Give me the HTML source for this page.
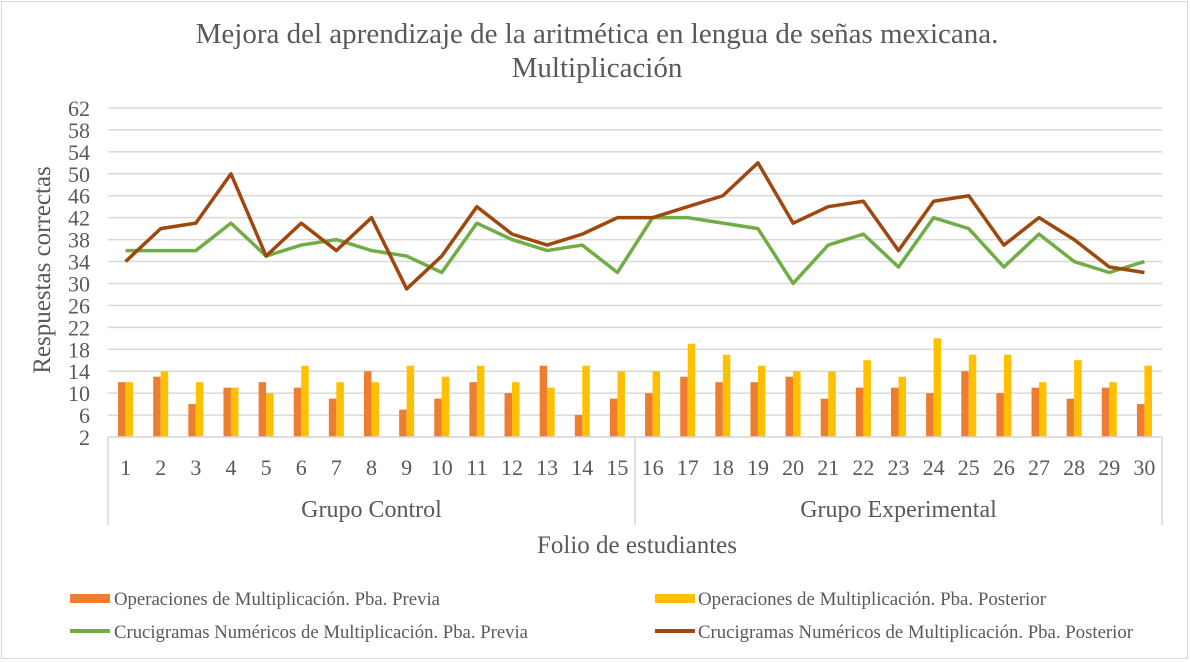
<!DOCTYPE html>
<html><head><meta charset="utf-8"><style>
html,body{margin:0;padding:0;background:#fff;}
svg{display:block;font-family:"Liberation Serif",serif;}
</style></head><body>
<svg id="chart" width="1190" height="662" viewBox="0 0 1190 662">
<rect x="1.5" y="1.5" width="1186" height="657" fill="#fff" stroke="#d9d9d9"/>
<text x="597" y="43" text-anchor="middle" font-size="29" fill="#595959">Mejora del aprendizaje de la aritmética en lengua de señas mexicana.</text>
<text x="597" y="77" text-anchor="middle" font-size="29" fill="#595959">Multiplicación</text>
<g id="grid"></g><g id="bars"></g><g id="lines"></g><g id="xaxis"></g>
<text transform="translate(50,270) rotate(-90)" text-anchor="middle" font-size="25" fill="#595959">Respuestas correctas</text>
<text x="637" y="553" text-anchor="middle" font-size="25" fill="#595959">Folio de estudiantes</text>
<g font-size="19" fill="#595959">
<rect x="70" y="594" width="40" height="9" fill="#ED7D31"/>
<text x="114" y="605" textLength="326" lengthAdjust="spacingAndGlyphs">Operaciones de Multiplicación. Pba. Previa</text>
<rect x="655" y="594" width="40" height="9" fill="#FFC000"/>
<text x="698" y="605" textLength="348" lengthAdjust="spacingAndGlyphs">Operaciones de Multiplicación. Pba. Posterior</text>
<line x1="70" y1="631" x2="110" y2="631" stroke="#70AD47" stroke-width="4"/>
<text x="114" y="638" textLength="414" lengthAdjust="spacingAndGlyphs">Crucigramas Numéricos de Multiplicación. Pba. Previa</text>
<line x1="655" y1="631" x2="695" y2="631" stroke="#9E480E" stroke-width="4"/>
<text x="698" y="638" textLength="435" lengthAdjust="spacingAndGlyphs">Crucigramas Numéricos de Multiplicación. Pba. Posterior</text>
</g>
</svg>
<script>
const categories = ["1","2","3","4","5","6","7","8","9","10","11","12","13","14","15","16","17","18","19","20","21","22","23","24","25","26","27","28","29","30"];
const groups = ["Grupo Control","Grupo Experimental"];
const opPrevia = [12,13,8,11,12,11,9,14,7,9,12,10,15,6,9,10,13,12,12,13,9,11,11,10,14,10,11,9,11,8];
const opPosterior = [12,14,12,11,10,15,12,12,15,13,15,12,11,15,14,14,19,17,15,14,14,16,13,20,17,17,12,16,12,15];
const cruciPrevia = [36,36,36,41,35,37,38,36,35,32,41,38,36,37,32,42,42,41,40,30,37,39,33,42,40,33,39,34,32,34];
const cruciPosterior = [34,40,41,50,35,41,36,42,29,35,44,39,37,39,42,42,44,46,52,41,44,45,36,45,46,37,42,38,33,32];
const yTicks = [2,6,10,14,18,22,26,30,34,38,42,46,50,54,58,62];

const NS="http://www.w3.org/2000/svg";
const L=108,R=1162,T=108,B=437,yMin=2,yMax=62;
const step=(R-L)/categories.length;
const xc=i=>L+step*(i+0.5);
const y=v=>B-(v-yMin)/(yMax-yMin)*(B-T);
function mk(tag,attrs,parent){const e=document.createElementNS(NS,tag);for(const k in attrs)e.setAttribute(k,attrs[k]);parent.appendChild(e);return e;}
const grid=document.getElementById('grid');
yTicks.forEach(t=>{
  const ln=mk('line',{x1:L,x2:R,y1:y(t),y2:y(t),stroke:'#d9d9d9','stroke-width':1.5},grid);
  
  
  const tx=mk('text',{x:90,y:y(t)+8,'text-anchor':'end','font-size':22,fill:'#595959'},grid);
  tx.textContent=t;
  
  
});
const bars=document.getElementById('bars');
const bw=7.5;
categories.forEach((c,i)=>{
  const b1=mk('rect',{x:xc(i)-bw,y:y(opPrevia[i]),width:bw,height:B-y(opPrevia[i]),fill:'#ED7D31'},bars);
  
  
  const b2=mk('rect',{x:xc(i),y:y(opPosterior[i]),width:bw,height:B-y(opPosterior[i]),fill:'#FFC000'},bars);
  
  
});
const lines=document.getElementById('lines');
[[cruciPrevia,'#70AD47','line-cruci-previa'],[cruciPosterior,'#9E480E','line-cruci-posterior']].forEach(([d,col,nm])=>{
  const p=mk('polyline',{points:d.map((v,i)=>xc(i)+','+y(v)).join(' '),fill:'none',stroke:col,'stroke-width':3.5,'stroke-linejoin':'round'},lines);
  
  
});
const xa=document.getElementById('xaxis');
const ax=mk('line',{x1:L,x2:R,y1:B,y2:B,stroke:'#d9d9d9','stroke-width':1.5},xa);


[L,L+step*15,R].forEach((xx,k)=>{
  const v=mk('line',{x1:xx,x2:xx,y1:B,y2:525,stroke:'#d9d9d9','stroke-width':1.5},xa);
  
  
});
categories.forEach((c,i)=>{
  const t=mk('text',{x:xc(i),y:475,'text-anchor':'middle','font-size':22,fill:'#595959'},xa);
  t.textContent=c;
  
  
});
groups.forEach((g,k)=>{
  const t=mk('text',{x:L+step*15*(k+0.5),y:517,'text-anchor':'middle','font-size':24,fill:'#595959'},xa);
  t.textContent=g;
  
  
});
</script>
</body></html>
